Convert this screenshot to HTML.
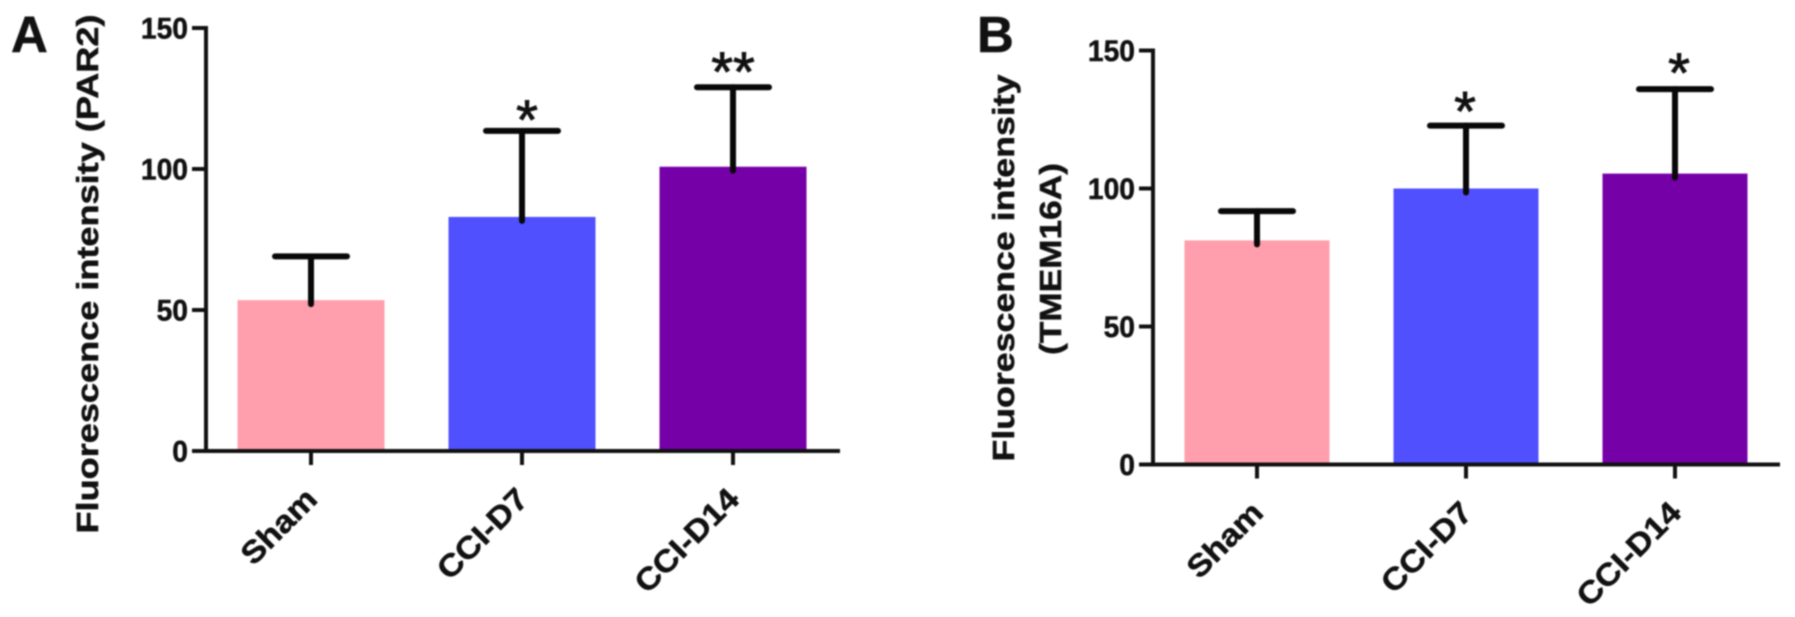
<!DOCTYPE html>
<html lang="en">
<head>
<meta charset="utf-8">
<title>Fluorescence intensity of PAR2 and TMEM16A</title>
<style>
html,body{margin:0;padding:0;background:#fff;width:1795px;height:617px;overflow:hidden}
svg{display:block;filter:blur(0.9px)}
text{font-family:"Liberation Sans",Arial,sans-serif;fill:#111}
.b{font-weight:bold;stroke:#111;stroke-width:0.5px}
.s{stroke:#111;stroke-width:0.9px}
</style>
</head>
<body>
<svg id="figure" xmlns="http://www.w3.org/2000/svg" width="1795" height="617" viewBox="0 0 1795 617"></svg>
<script>
const categories = ["Sham", "CCI-D7", "CCI-D14"];
const tickValues = [0, 50, 100, 150];
const tickLabels = ["0", "50", "100", "150"];
const parMeans = [53.5, 83, 100.8];
const parUpper = [69, 113.5, 129];
const parStars = ["", "*", "**"];
const tmemMeans = [81.2, 100, 105.4];
const tmemUpper = [91.8, 122.8, 136];
const tmemStars = ["", "*", "*"];
const barColors = ["#ff9eac", "#5050ff", "#7500a8"];

const svg = document.getElementById("figure");
const NS = "http://www.w3.org/2000/svg";
const INK = "#111";

function make(tag, attrs, parent, content) {
  const el = document.createElementNS(NS, tag);
  for (const k in attrs) el.setAttribute(k, attrs[k]);
  if (content !== undefined) el.textContent = content;
  parent.appendChild(el);
  return el;
}

function drawPanel(p) {
  const g = make("g", {}, svg);
  
  

  const yScale = v => p.y0 + (v / 150) * (p.y150 - p.y0);
  const xScale = i => p.x0 + p.step * i;

  // panel letter
  const letter = make("text", {x: p.letterX, y: 52, "font-size": 51, class: "b"}, g, p.letter);
  
  

  // y titles
  p.titles.forEach((t, i) => {
    const title = make("text", {
      transform: "translate(" + t.x + "," + t.y + ") rotate(-90)",
      "text-anchor": "middle", "font-size": 31, class: "b",
      textLength: t.len, lengthAdjust: "spacingAndGlyphs"
    }, g, t.text);
    
    
  });

  // bars
  categories.forEach((c, i) => {
    const top = yScale(p.means[i]);
    const bar = make("rect", {
      x: xScale(i) - p.barW / 2, y: top, width: p.barW,
      height: p.y0 - top, fill: barColors[i]
    }, g);
    
    
  });

  // axes
  const yAxis = make("line", {x1: p.axisX, x2: p.axisX, y1: yScale(150) - 2, y2: p.y0 + 2, stroke: INK, "stroke-width": 4}, g);
  
  
  const xAxis = make("line", {x1: p.axisX - 2, x2: p.axisEnd, y1: p.y0, y2: p.y0, stroke: INK, "stroke-width": 4}, g);
  
  

  // y ticks
  tickValues.forEach((v, i) => {
    const y = yScale(v);
    const tick = make("line", {x1: p.axisX - 14, x2: p.axisX, y1: y, y2: y, stroke: INK, "stroke-width": 4}, g);
    
    
    const label = make("text", {
      x: p.axisX - 18, y: y + 10.5, "text-anchor": "end", "font-size": 30, class: "b",
      textLength: tickLabels[i].length * 15.7, lengthAdjust: "spacingAndGlyphs"
    }, g, tickLabels[i]);
    
    
  });

  // x ticks, category labels, error bars, significance marks
  categories.forEach((c, i) => {
    const x = xScale(i);
    const tick = make("line", {x1: x, x2: x, y1: p.y0, y2: p.y0 + 14, stroke: INK, "stroke-width": 4}, g);
    
    

    const label = make("text", {
      transform: "translate(" + (x + 8) + "," + (p.y0 + 50) + ") rotate(-45)",
      "text-anchor": "end", "font-size": 31, class: "b"
    }, g, c);
    label.setAttribute("textLength", label.getComputedTextLength() * 1.1);
    label.setAttribute("lengthAdjust", "spacingAndGlyphs");
    
    

    const top = yScale(p.means[i]);
    const upper = yScale(p.upper[i]);
    const stem = make("line", {x1: x, x2: x, y1: top + 4, y2: upper, stroke: "#080808", "stroke-width": 6, "stroke-linecap": "round"}, g);
    
    
    const cap = make("line", {x1: x - 36, x2: x + 36, y1: upper, y2: upper, stroke: "#080808", "stroke-width": 6, "stroke-linecap": "round"}, g);
    
    

    if (p.stars[i]) {
      const star = make("text", {x: x + p.starDx[i], y: upper + 15 - p.starLift[i], "text-anchor": "middle", "font-size": 56, class: "s"}, g, p.stars[i]);
      
      
    }
  });
}

drawPanel({
  id: "par2", letter: "A", letterX: 11,
  means: parMeans, upper: parUpper, stars: parStars,
  x0: 311, step: 211, barW: 147, y0: 451, y150: 28,
  axisX: 206, axisEnd: 840, starDx: [0, 5, 0], starLift: [0, 7, 11],
  titles: [{text: "Fluorescence intensity (PAR2)", x: 98, y: 274, len: 519}]
});

drawPanel({
  id: "tmem16a", letter: "B", letterX: 977,
  means: tmemMeans, upper: tmemUpper, stars: tmemStars,
  x0: 1257, step: 209, barW: 145, y0: 464.5, y150: 50.5,
  axisX: 1153, axisEnd: 1780, starDx: [0, -1, 4], starLift: [0, 10, 12],
  titles: [
    {text: "Fluorescence intensity", x: 1014, y: 268, len: 387},
    {text: "(TMEM16A)", x: 1061, y: 259, len: 192}
  ]
});
</script>
</body>
</html>
